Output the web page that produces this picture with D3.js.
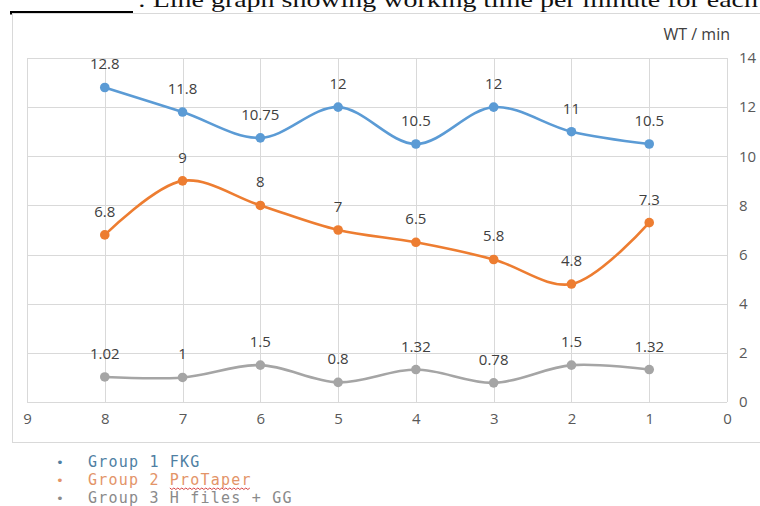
<!DOCTYPE html>
<html lang="en">
<head>
  <meta charset="UTF-8">
  <title>WT / min line chart</title>
  <script src="https://d3js.org/d3.v7.min.js"></script>
  <style>
    body { margin: 0; background: white; }
    svg { display: block; }
  </style>
</head>
<body>
  <div id="chart"></div>
  <script>
    // chart values
    const xValues = [8, 7, 6, 5, 4, 3, 2, 1];
    const group1 = [12.8, 11.8, 10.75, 12, 10.5, 12, 11, 10.5];
    const group2 = [6.8, 9, 8, 7, 6.5, 5.8, 4.8, 7.3];
    const group3 = [1.02, 1, 1.5, 0.8, 1.32, 0.78, 1.5, 1.32];
    const xTicks = [9, 8, 7, 6, 5, 4, 3, 2, 1, 0];
    const yTicks = [0, 2, 4, 6, 8, 10, 12, 14];
    const seriesNames = ["Group 1 FKG", "Group 2 ProTaper", "Group 3 H files + GG"];

    const W = 760, H = 506;
    const colors = ["#5b9bd5", "#ed7d31", "#a5a5a5"];
    const legendColors = ["#4f7fa3", "#e39468", "#8a8a8a"];

    const svg = d3.select("#chart").append("svg")
      .attr("width", W).attr("height", H);

    // caption of the page, cut at the top like in the scan
    svg.append("rect").attr("x", 10).attr("y", 11).attr("width", 123).attr("height", 3.5).attr("fill", "#000");
    svg.append("text")
      .attr("x", 138).attr("y", 7)
      .attr("textLength", 620).attr("lengthAdjust", "spacingAndGlyphs")
      .style("font-family", "Liberation Serif, serif").style("font-size", "21px")
      .attr("fill", "#111")
      .text(": Line graph showing working time per minute for each");

    // chart frame
    svg.append("rect").attr("x", 12.5).attr("y", 13.5).attr("width", 770).attr("height", 429)
      .attr("fill", "white").attr("stroke", "#d9d9d9");

    const x = d3.scaleLinear().domain([9, 0]).range([27, 727]);
    const y = d3.scaleLinear().domain([0, 14]).range([402, 58]);

    // grid
    const grid = svg.append("g").attr("stroke", "#d9d9d9").attr("stroke-width", 1);
    grid.selectAll("line.h").data(yTicks).enter().append("line")
      .attr("x1", x(9)).attr("x2", x(0))
      .attr("y1", d => Math.round(y(d)) + 0.5).attr("y2", d => Math.round(y(d)) + 0.5);
    grid.selectAll("line.v").data(xTicks).enter().append("line")
      .attr("y1", y(14)).attr("y2", y(0))
      .attr("x1", d => Math.round(x(d)) + 0.5).attr("x2", d => Math.round(x(d)) + 0.5);

    // axes (labels only, Excel style)
    const xAxis = svg.append("g")
      .attr("transform", `translate(0,${y(0) + 8})`)
      .call(d3.axisBottom(x).tickValues(xTicks).tickSize(0).tickFormat(d3.format("d")));
    const yAxis = svg.append("g")
      .attr("transform", `translate(${x(0) + 9},0)`)
      .call(d3.axisRight(y).tickValues(yTicks).tickSize(0).tickFormat(d3.format("d")));
    [xAxis, yAxis].forEach(a => {
      a.select(".domain").remove();
      a.selectAll("text")
        .style("font-family", "Open Sans, sans-serif").style("font-size", "15px")
        .attr("fill", "#595959");
    });

    svg.append("text")
      .attr("x", 730).attr("y", 40).attr("text-anchor", "end")
      .style("font-family", "Open Sans, sans-serif").style("font-size", "16px")
      .attr("fill", "#404040").text("WT / min");

    // series
    const series = [group1, group2, group3];
    const line = d3.line()
      .x((d, i) => x(xValues[i]))
      .y(d => y(d))
      .curve(d3.curveCatmullRom.alpha(0.5));

    series.forEach((vals, s) => {
      const g = svg.append("g");
      g.append("path").datum(vals)
        .attr("d", line).attr("fill", "none")
        .attr("stroke", colors[s]).attr("stroke-width", 2.6);
      g.selectAll("circle").data(vals).enter().append("circle")
        .attr("cx", (d, i) => x(xValues[i])).attr("cy", d => y(d))
        .attr("r", 4.8).attr("fill", colors[s]);
      g.selectAll("text").data(vals).enter().append("text")
        .attr("x", (d, i) => x(xValues[i])).attr("y", d => y(d) - 18)
        .attr("text-anchor", "middle")
        .style("font-family", "Open Sans, sans-serif").style("font-size", "15px")
        .attr("fill", "#404040")
        .text(d => d);
    });

    // legend below the chart
    const legend = svg.append("g");
    const charW = 15 * 0.602 + 1.2;
    seriesNames.forEach((name, i) => {
      const yy = 467 + i * 18;
      legend.append("text").attr("x", 56).attr("y", yy)
        .style("font-family", "DejaVu Sans Mono, monospace").style("font-size", "13px")
        .attr("fill", legendColors[i]).text("•");
      legend.append("text").attr("x", 88).attr("y", yy)
        .style("font-family", "DejaVu Sans Mono, monospace").style("font-size", "15px")
        .style("letter-spacing", "1.2px")
        .attr("fill", legendColors[i]).text(name);
      if (i === 1) {
        // red spell-check squiggle under "ProTaper"
        const x0 = 88 + 8 * charW, x1 = x0 + 8 * charW;
        const pts = d3.range(x0, x1, 2).map((px, k) => [px, yy + 3 + (k % 2 ? 1.5 : 0)]);
        legend.append("path").attr("d", d3.line()(pts))
          .attr("fill", "none").attr("stroke", "#d03030").attr("stroke-width", 0.9);
      }
    });
  </script>
</body>
</html>
